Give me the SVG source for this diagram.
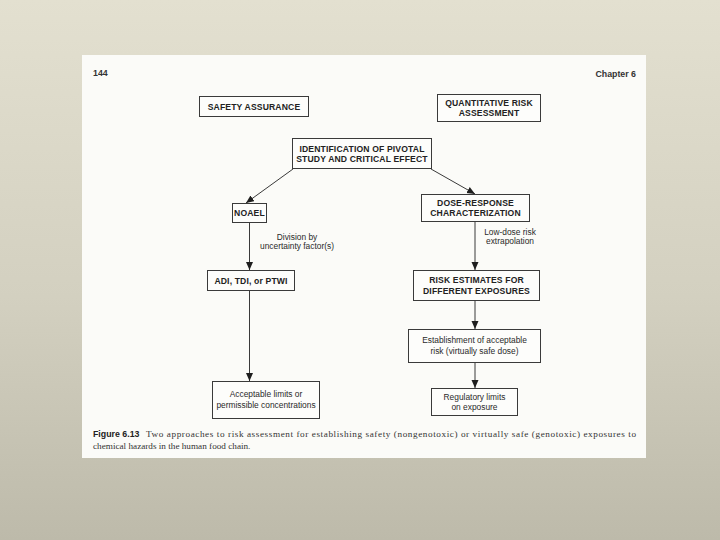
<svg xmlns="http://www.w3.org/2000/svg" width="720" height="540" viewBox="0 0 720 540">
<defs>
<linearGradient id="bg" x1="0" y1="0" x2="0" y2="1">
<stop offset="0" stop-color="#e3e0d0"/>
<stop offset="0.55" stop-color="#d3d0c0"/>
<stop offset="1" stop-color="#bdbaaa"/>
</linearGradient>
<marker id="ah" markerUnits="userSpaceOnUse" markerWidth="9" markerHeight="8" refX="8" refY="3.5" orient="auto">
<path d="M0,0 L8,3.5 L0,7 z" fill="#1e1e1e"/>
</marker>
<style>
.box{fill:#fdfdfb;stroke:#3a3a3a;stroke-width:1}
.hb{font-family:"Liberation Sans",Arial,sans-serif;font-weight:bold;font-size:8.6px;letter-spacing:0.15px;fill:#222;text-anchor:middle}
.nt{font-family:"Liberation Sans",Arial,sans-serif;font-size:8.4px;fill:#2a2a2a;text-anchor:middle}
.cn line{stroke:#3a3a3a;stroke-width:1;marker-end:url(#ah)}
.cap{font-family:"Liberation Serif","Times New Roman",serif;font-size:9.2px;fill:#333}
</style>
</defs>
<rect width="720" height="540" fill="url(#bg)"/>
<rect x="82" y="55" width="564" height="403" fill="#fbfbf8"/>
<text x="93" y="76" style="font-family:'Liberation Sans',Arial,sans-serif;font-weight:bold;font-size:8.8px;fill:#333">144</text>
<text x="636" y="77" text-anchor="end" style="font-family:'Liberation Sans',Arial,sans-serif;font-weight:bold;font-size:8.8px;fill:#333">Chapter 6</text>

<g id="safety"><rect class="box" x="199.5" y="96.5" width="109" height="20"/><text class="hb" x="254" y="109.5">SAFETY ASSURANCE</text></g>
<g id="qra"><rect class="box" x="437.5" y="94.5" width="103" height="27"/><text class="hb" x="489" y="106">QUANTITATIVE RISK</text><text class="hb" x="489" y="115.5">ASSESSMENT</text></g>
<g id="ident"><rect class="box" x="292.5" y="138.5" width="139" height="30"/><text class="hb" x="362" y="152">IDENTIFICATION OF PIVOTAL</text><text class="hb" x="362" y="162">STUDY AND CRITICAL EFFECT</text></g>
<g id="noael"><rect class="box" x="232.5" y="203.5" width="34" height="19"/><text class="hb" x="249.5" y="216">NOAEL</text></g>
<g id="dose"><rect class="box" x="421.5" y="194.5" width="108" height="27"/><text class="hb" x="475.5" y="206">DOSE-RESPONSE</text><text class="hb" x="475.5" y="215.5">CHARACTERIZATION</text></g>
<g id="adi"><rect class="box" x="207.5" y="270.5" width="87" height="20"/><text class="hb" x="251" y="283.5">ADI, TDI, or PTWI</text></g>
<g id="risk"><rect class="box" x="413.5" y="270.5" width="126" height="30"/><text class="hb" x="476.5" y="283">RISK ESTIMATES FOR</text><text class="hb" x="476.5" y="293.5">DIFFERENT EXPOSURES</text></g>
<g id="estab"><rect class="box" x="408.5" y="329.5" width="132" height="33"/><text class="nt" x="474.5" y="343">Establishment of acceptable</text><text class="nt" x="474.5" y="354">risk (virtually safe dose)</text></g>
<g id="accept"><rect class="box" x="212.5" y="381.5" width="107" height="37"/><text class="nt" x="266" y="397">Acceptable limits or</text><text class="nt" x="266" y="408">permissible concentrations</text></g>
<g id="reg"><rect class="box" x="431.5" y="388.5" width="86" height="27"/><text class="nt" x="474.5" y="400">Regulatory limits</text><text class="nt" x="474.5" y="410">on exposure</text></g>

<g id="labels">
<text class="nt" x="297" y="240">Division by</text>
<text class="nt" x="297" y="249">uncertainty factor(s)</text>
<text class="nt" x="510" y="235">Low-dose risk</text>
<text class="nt" x="510" y="244">extrapolation</text>
</g>

<g id="connectors" class="cn">
<line x1="293" y1="169" x2="246" y2="203"/>
<line x1="431" y1="169" x2="475" y2="194"/>
<line x1="249.5" y1="223" x2="249.5" y2="270"/>
<line x1="475" y1="222" x2="475" y2="270"/>
<line x1="475" y1="301" x2="475" y2="329"/>
<line x1="475" y1="363" x2="475" y2="388"/>
<line x1="249.5" y1="291" x2="249.5" y2="381"/>
</g>

<text x="93" y="437" style="font-family:'Liberation Sans',Arial,sans-serif;font-weight:bold;font-size:8.8px;fill:#222">Figure 6.13</text>
<text class="cap" x="146" y="437" textLength="490" lengthAdjust="spacing">Two approaches to risk assessment for establishing safety (nongenotoxic) or virtually safe (genotoxic) exposures to</text>
<text class="cap" x="93" y="449">chemical hazards in the human food chain.</text>
</svg>
